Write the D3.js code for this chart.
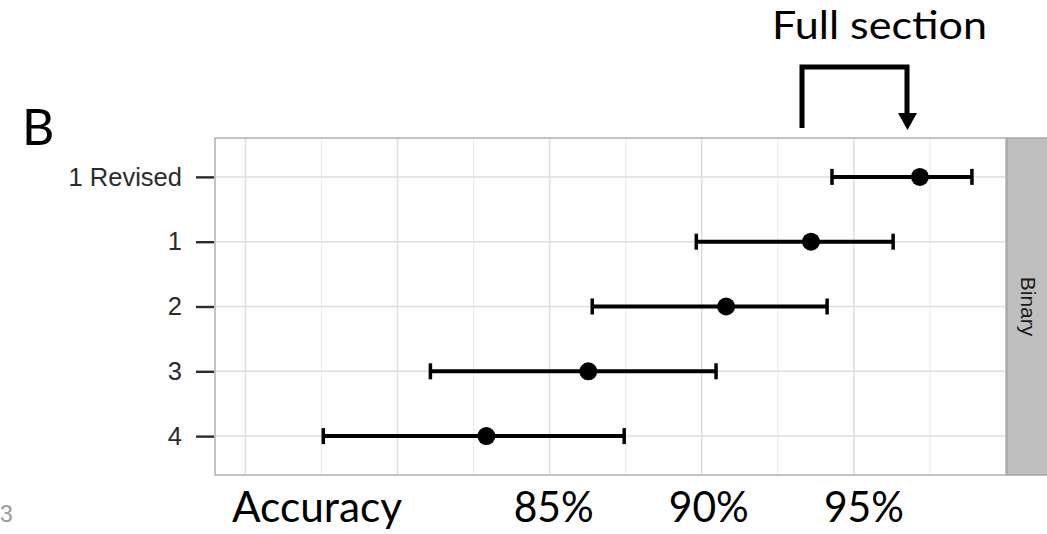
<!DOCTYPE html>
<html>
  <head>
    <meta charset="utf-8">
    <title>Accuracy by section</title>
    <script src="https://d3js.org/d3.v7.min.js"></script>
    <style>
      body { margin: 0; background: white; }
      #chart { display: block; }
      .rowLabel { font-family: "Liberation Sans", Arial, sans-serif; font-size: 25.5px; fill: #2b2b2b; }
      .slide { font-family: Lato, "Open Sans", sans-serif; fill: #000; }
      .strip { font-family: "Liberation Sans", Arial, sans-serif; font-size: 21px; fill: #1a1a1a; }
    </style>
  </head>
  <body>
    <svg id="chart" width="1047" height="534"></svg>
    <script>
      // data
      sections = ["1 Revised", "1", "2", "3", "4"];
      accuracy = [97.17, 93.59, 90.80, 86.27, 82.92];
      lower = [94.28, 89.82, 86.40, 81.08, 77.56];
      upper = [98.88, 96.29, 94.12, 90.47, 87.45];
      majorTicks = [75, 80, 85, 90, 95];
      minorTicks = [77.5, 82.5, 87.5, 92.5, 97.5];
      tickLabels = ["85%", "90%", "95%"];
      tickValues = [85, 90, 95];
      facet = "Binary";

      // page elements
      svg = d3.select("#chart");
      panel = { left: 215, top: 138, right: 1006, bottom: 475 };

      x = d3.scaleLinear()
        .domain([74, 100])
        .range([panel.left, panel.right]);
      y = d3.scalePoint()
        .domain(sections)
        .range([panel.top, panel.bottom])
        .padding(0.6);

      // grid
      grid = svg.append("g");
      grid.selectAll(".minor")
          .data(minorTicks)
        .enter().append("line")
          .attr("x1", function(d) { return x(d); })
          .attr("x2", function(d) { return x(d); })
          .attr("y1", panel.top)
          .attr("y2", panel.bottom)
          .style("stroke", "#ececec")
          .style("stroke-width", 1.2);
      grid.selectAll(".major")
          .data(majorTicks)
        .enter().append("line")
          .attr("x1", function(d) { return x(d); })
          .attr("x2", function(d) { return x(d); })
          .attr("y1", panel.top)
          .attr("y2", panel.bottom)
          .style("stroke", "#dedede")
          .style("stroke-width", 1.5);
      grid.selectAll(".row")
          .data(sections)
        .enter().append("line")
          .attr("x1", panel.left)
          .attr("x2", panel.right)
          .attr("y1", function(d) { return y(d); })
          .attr("y2", function(d) { return y(d); })
          .style("stroke", "#dedede")
          .style("stroke-width", 1.5);

      // panel border
      svg.append("rect")
        .attr("x", panel.left)
        .attr("y", panel.top)
        .attr("width", panel.right - panel.left)
        .attr("height", panel.bottom - panel.top)
        .style("fill", "none")
        .style("stroke", "#b0b0b0")
        .style("stroke-width", 1.5);

      // facet strip
      svg.append("rect")
        .attr("x", panel.right + 1)
        .attr("y", panel.top)
        .attr("width", 1047 - panel.right)
        .attr("height", panel.bottom - panel.top)
        .style("fill", "#bfbfbf")
        .style("stroke", "#a6a6a6")
        .style("stroke-width", 1.5);
      svg.append("text")
        .attr("class", "strip")
        .attr("transform", "translate(1021, " + ((panel.top + panel.bottom) / 2) + ") rotate(90)")
        .attr("text-anchor", "middle")
        .text(facet);

      // y axis
      axis = d3.axisLeft(y)
        .tickSize(18)
        .tickPadding(14);
      axisGroup = svg.append("g")
        .attr("transform", "translate(" + (panel.left - 1) + ", 0)")
        .call(axis);
      axisGroup.select(".domain").remove();
      axisGroup.selectAll(".tick line")
        .style("stroke", "#2b2b2b")
        .style("stroke-width", 2.4);
      axisGroup.selectAll(".tick text")
        .attr("class", "rowLabel")
        .attr("font-size", null)
        .attr("font-family", null)
        .attr("fill", null);

      // error bars
      rows = sections.map(function(d, i) {
        return { section: d, est: accuracy[i], lo: lower[i], hi: upper[i] };
      });
      bars = svg.selectAll(".bar")
          .data(rows)
        .enter().append("g")
          .attr("transform", function(d) { return "translate(0, " + y(d.section) + ")"; });
      bars.append("line")
        .attr("x1", function(d) { return x(d.lo); })
        .attr("x2", function(d) { return x(d.hi); })
        .style("stroke", "#000")
        .style("stroke-width", 4);
      bars.selectAll(".cap")
          .data(function(d) { return [d.lo, d.hi]; })
        .enter().append("line")
          .attr("x1", function(d) { return x(d); })
          .attr("x2", function(d) { return x(d); })
          .attr("y1", -8)
          .attr("y2", 8)
          .style("stroke", "#000")
          .style("stroke-width", 3.5);
      bars.append("circle")
        .attr("cx", function(d) { return x(d.est); })
        .attr("r", 9)
        .style("fill", "#000");

      // slide overlay text
      svg.append("text")
        .attr("class", "slide")
        .attr("x", 232)
        .attr("y", 522)
        .attr("font-size", 42)
        .attr("textLength", 170)
        .attr("lengthAdjust", "spacingAndGlyphs")
        .text("Accuracy");
      svg.selectAll(".pct")
          .data(tickValues)
        .enter().append("text")
          .attr("class", "slide")
          .attr("x", function(d) { return x(d) - 36 + (d - 85) * 0.6; })
          .attr("y", 522)
          .attr("font-size", 42)
          .attr("textLength", 80)
          .attr("lengthAdjust", "spacingAndGlyphs")
          .text(function(d, i) { return tickLabels[i]; });
      svg.append("text")
        .attr("class", "slide")
        .attr("x", 772)
        .attr("y", 39)
        .attr("font-size", 39)
        .attr("textLength", 215)
        .attr("lengthAdjust", "spacingAndGlyphs")
        .text("Full section");
      svg.append("text")
        .attr("class", "slide")
        .attr("x", 22)
        .attr("y", 145)
        .attr("font-size", 50)
        .text("B");
      svg.append("text")
        .attr("x", 0)
        .attr("y", 522)
        .style("font-family", "Liberation Sans, Arial, sans-serif")
        .style("font-size", "23px")
        .style("fill", "#9a9a9a")
        .text("3");

      // bracket arrow
      svg.append("path")
        .attr("d", "M802,128 V67 H907 V116")
        .style("fill", "none")
        .style("stroke", "#000")
        .style("stroke-width", 5);
      svg.append("path")
        .attr("d", "M898,113 H917 L907.5,130 Z")
        .style("fill", "#000");
    </script>
  </body>
</html>
